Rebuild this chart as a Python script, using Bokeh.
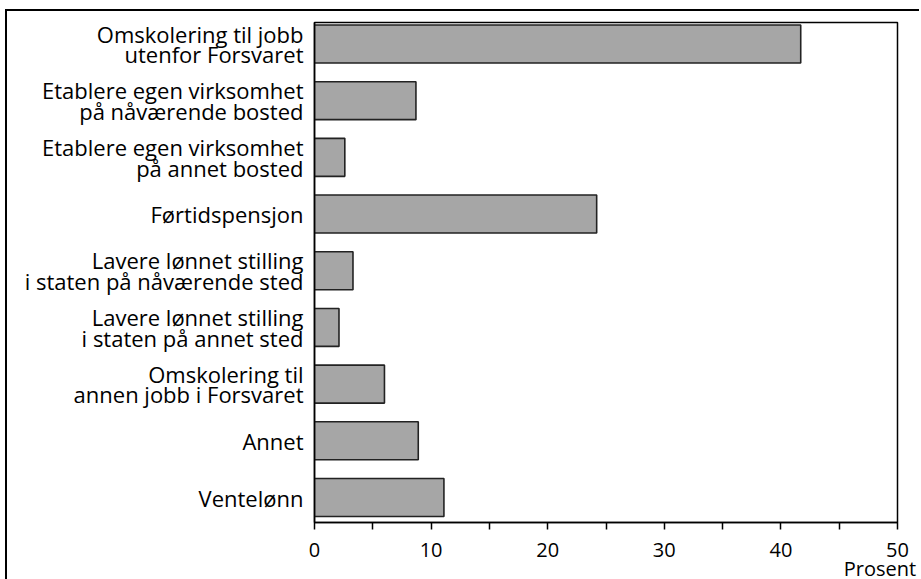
from bokeh.plotting import figure
from bokeh.models import Range1d, FixedTicker
from bokeh.embed import file_html
from bokeh.resources import INLINE

categories = [
    "Omskolering til jobb\nutenfor Forsvaret",
    "Etablere egen virksomhet\npå nåværende bosted",
    "Etablere egen virksomhet\npå annet bosted",
    "Førtidspensjon",
    "Lavere lønnet stilling\ni staten på nåværende sted",
    "Lavere lønnet stilling\ni staten på annet sted",
    "Omskolering til\nannen jobb i Forsvaret",
    "Annet",
    "Ventelønn",
]
values = [41.7, 8.7, 2.6, 24.2, 3.3, 2.1, 6.0, 8.9, 11.1]
x_ticks = [0, 10, 20, 30, 40, 50]
x_tick_marks = [0, 5, 10, 15, 20, 25, 30, 35, 40, 45, 50]
x_label = "Prosent"
x_label_pos = 48.5

FONT = "Open Sans"
idx = list(range(len(categories)))

p = figure(
    frame_width=583, frame_height=500,
    min_border_left=307, min_border_right=22, min_border_top=11, min_border_bottom=0,
    x_range=Range1d(0, 50), y_range=Range1d(8.441, -0.379),
    output_backend="svg", toolbar_location=None,
)
p.styles = {"margin-left": "5px", "margin-top": "9px",
            "border-left": "2px solid black", "border-top": "2px solid black"}

p.hbar(y=idx, right=values, left=0, height=0.67,
       fill_color="#a6a6a6", line_color="#222222", line_width=1.6)

p.grid.visible = False
p.outline_line_color = "black"
p.outline_line_width = 1.5

xa = p.xaxis[0]
xa.ticker = FixedTicker(ticks=x_ticks + [x_label_pos], minor_ticks=x_tick_marks)
overrides = {t: str(t) for t in x_ticks}
overrides[x_label_pos] = "\n" + x_label
xa.major_label_overrides = overrides
xa.axis_line_color = "black"
xa.axis_line_width = 1.5
xa.major_tick_in = 0
xa.major_tick_out = 0
xa.major_tick_line_color = None
xa.minor_tick_in = 0
xa.minor_tick_out = 7
xa.minor_tick_line_width = 1.5
xa.minor_tick_line_color = "black"
xa.major_label_text_font = FONT
xa.major_label_text_font_size = "20px"
xa.major_label_text_color = "black"
xa.major_label_text_line_height = 0.735
xa.major_label_standoff = 6

ya = p.yaxis[0]
ya.ticker = FixedTicker(ticks=idx)
ya.major_label_overrides = {i: c for i, c in zip(idx, categories)}
ya.axis_line_color = "black"
ya.axis_line_width = 1.5
ya.major_tick_in = 0
ya.major_tick_out = 0
ya.minor_tick_line_color = None
ya.major_label_text_font = FONT
ya.major_label_text_font_size = "22px"
ya.major_label_text_color = "black"
ya.major_label_text_line_height = 0.69
ya.major_label_standoff = 11

open("out.html", "w").write(file_html(p, INLINE))
